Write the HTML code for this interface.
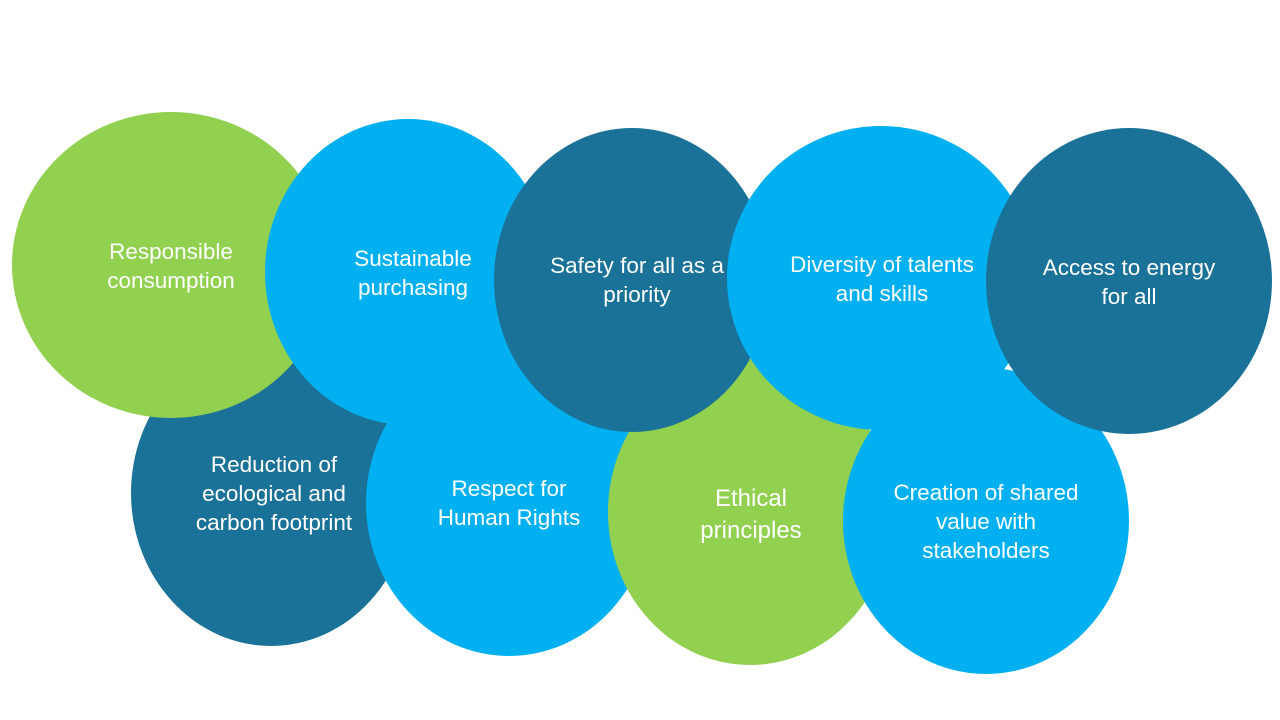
<!DOCTYPE html>
<html><head><style>
body{margin:0;background:#fff;}
svg{display:block}
text{font-family:"Liberation Sans",sans-serif;fill:#fff;font-size:22.5px;text-anchor:middle}
</style></head><body>
<svg width="1280" height="720" viewBox="0 0 1280 720">
<ellipse cx="271" cy="493" rx="140" ry="153" fill="#1B7298"/>
<ellipse cx="509" cy="503" rx="143" ry="153" fill="#00B0F0"/>
<ellipse cx="750" cy="512" rx="142" ry="153" fill="#92D050"/>
<ellipse cx="986" cy="521" rx="143" ry="153" fill="#00B0F0"/>
<ellipse cx="171" cy="265" rx="159" ry="153" fill="#92D050"/>
<ellipse cx="408" cy="272" rx="143" ry="153" fill="#00B0F0"/>
<ellipse cx="632" cy="280" rx="138" ry="152" fill="#1B7298"/>
<ellipse cx="881" cy="278" rx="154" ry="152" fill="#00B0F0"/>
<ellipse cx="1129" cy="281" rx="143" ry="153" fill="#1B7298"/>
<text x="171" y="259">Responsible</text><text x="171" y="288">consumption</text>
<text x="413" y="266">Sustainable</text><text x="413" y="295">purchasing</text>
<text x="637" y="273">Safety for all as a</text><text x="637" y="302">priority</text>
<text x="882" y="272">Diversity of talents</text><text x="882" y="301">and skills</text>
<text x="1129" y="275">Access to energy</text><text x="1129" y="304">for all</text>
<text x="274" y="472">Reduction of</text><text x="274" y="501">ecological and</text><text x="274" y="530">carbon footprint</text>
<text x="509" y="496">Respect for</text><text x="509" y="525">Human Rights</text>
<text x="751" y="506" style="font-size:24px">Ethical</text><text x="751" y="538" style="font-size:24px">principles</text>
<text x="986" y="500">Creation of shared</text><text x="986" y="529">value with</text><text x="986" y="558">stakeholders</text>
</svg>
</body></html>
